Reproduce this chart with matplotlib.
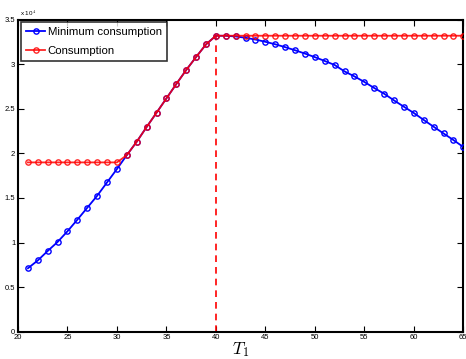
import matplotlib
matplotlib.use("Agg")
import matplotlib.pyplot as plt
from matplotlib.ticker import FuncFormatter, FixedLocator

years = list(range(21, 66))
min_consumption = [7110, 7990, 9050, 10060, 11260, 12560, 13900, 15240, 16740, 18240,
                   19800, 21300, 22950, 24550, 26160, 27770, 29340, 30800, 32210, 33180,
                   33170, 33100, 32950, 32750, 32500, 32220, 31900, 31550, 31180, 30780,
                   30350, 29900, 29180, 28620, 28000, 27320, 26680, 25930, 25220, 24520,
                   23740, 22980, 22230, 21490, 20710]
consumption = [18980] * 10 + min_consumption[10:20] + [33180] * 25
t1 = 40
xticks = [20, 25, 30, 35, 40, 45, 50, 55, 60, 65]
yticks = [0, 5000, 10000, 15000, 20000, 25000, 30000, 35000]

plt.rcParams['font.family'] = ['Liberation Sans', 'DejaVu Sans']
plt.rcParams['mathtext.fontset'] = 'cm'
fig = plt.figure(figsize=(4.66, 3.59), dpi=100)
ax = fig.add_axes([18/466, 1-331.7/359, (463.3-18)/466, (331.7-19.5)/359])

ax.plot(years, min_consumption, color='#0000ff', lw=1.3, marker='o', ms=3.8,
        mfc='none', mew=1.0, label='Minimum consumption', zorder=3)
ax.plot(years, consumption, color='#ff0000', lw=1.3, marker='o', ms=3.8,
        mfc='none', mew=1.0, alpha=0.85, label='Consumption', zorder=4)
ax.plot([t1, t1], [0, consumption[years.index(t1)]], color='#ff0000', lw=1.2,
        ls=(0, (4, 3)), zorder=2)

ax.set_xlim(20, 65)
ax.set_ylim(0, 35000)
ax.xaxis.set_major_locator(FixedLocator(xticks))
ax.yaxis.set_major_locator(FixedLocator(yticks))
ax.yaxis.set_major_formatter(FuncFormatter(lambda v, p: ('%g' % (v / 1e4))))
ax.tick_params(direction='in', length=4, width=0.8, labelsize=5.5, pad=2,
               top=True, right=True)
for s in ax.spines.values():
    s.set_linewidth(1.5)

ax.text(0.005, 1.005, r'x 10$^4$', transform=ax.transAxes, fontsize=4.5,
        ha='left', va='bottom')
ax.set_xlabel(r'$\mathbf{\mathit{T}}_1$', fontsize=12.5, labelpad=-1)

leg = ax.legend(loc='upper left', fontsize=8.2, frameon=True, fancybox=False,
                borderpad=0.45, handlelength=1.7, handletextpad=0.2,
                labelspacing=0.75, borderaxespad=0.25)
leg.get_frame().set_edgecolor('black')
leg.get_frame().set_linewidth(1.2)

fig.savefig('out.png', dpi=100)
